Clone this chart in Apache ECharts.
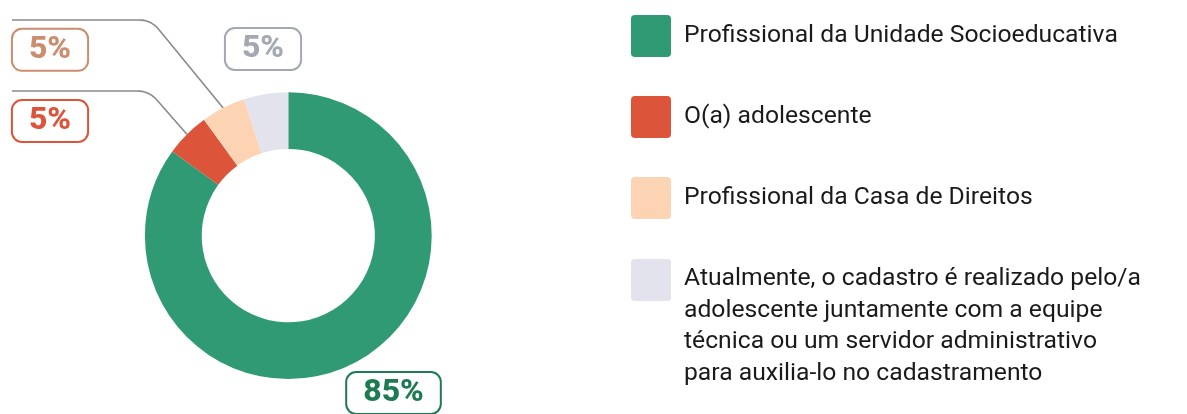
<!DOCTYPE html>
<html>
<head>
<meta charset="utf-8">
<script src="https://cdn.jsdelivr.net/npm/echarts@6/dist/echarts.min.js"></script>
<style>
  html, body { margin: 0; padding: 0; background: #ffffff; }
  #chart { width: 1187px; height: 414px; }
</style>
</head>
<body>
<div id="chart"></div>
<script>
// ---- data ----
const categories = [
  'Profissional da Unidade Socioeducativa',
  'O(a) adolescente',
  'Profissional da Casa de Direitos',
  'Atualmente, o cadastro é realizado pelo/a adolescente juntamente com a equipe técnica ou um servidor administrativo para auxilia-lo no cadastramento'
];
const legendLines = [
  ['Profissional da Unidade Socioeducativa'],
  ['O(a) adolescente'],
  ['Profissional da Casa de Direitos'],
  ['Atualmente, o cadastro é realizado pelo/a', 'adolescente juntamente com a equipe', 'técnica ou um servidor administrativo', 'para auxilia-lo no cadastramento']
];
const values = [85, 5, 5, 5];
const sliceColors = ['#2f9a74', '#dc553b', '#fdd4b3', '#e3e3ed'];
const labelColors = ['#1e7a52', '#dc553b', '#cc8d6e', '#a3a8b3'];

// ---- layout (annotation positions, not data) ----
const labelCenters = [[393.5, 393], [50, 121], [50, 49.8], [263, 49]];
const leaderY = [null, 91, 20, null];
const leaderElbowX = [null, 149, 151, null];
const leaderEndX = 12;
const LINE_H = 31.6;
const SPACER_H = 92.8;
const legendTops = [15, 96, 177, 259 - (LINE_H * 4 + SPACER_H) / 2 + 21];

function roundedLeader(s, ex, ey, endX) {
  const r = 12;
  const dx = s[0] - ex, dy = s[1] - ey;
  const len = Math.sqrt(dx * dx + dy * dy);
  const A = [ex + dx / len * r, ey + dy / len * r];
  const B = [ex - r, ey];
  const pts = [[s[0], s[1]]];
  for (let k = 0; k <= 10; k++) {
    const t = k / 10;
    const x = (1 - t) * (1 - t) * A[0] + 2 * (1 - t) * t * ex + t * t * B[0];
    const y = (1 - t) * (1 - t) * A[1] + 2 * (1 - t) * t * ey + t * t * B[1];
    pts.push([x, y]);
  }
  pts.push([endX, ey]);
  return pts;
}

const seriesData = categories.map((name, i) => ({
  name: name,
  value: values[i],
  itemStyle: { color: sliceColors[i] },
  label: { color: labelColors[i], borderColor: labelColors[i] },
  labelLine: { show: leaderY[i] != null }
}));

const iconPath = 'path://M4,0 H36 Q40,0 40,4 V38 Q40,42 36,42 H4 Q0,42 0,38 V4 Q0,0 4,0 Z';

const legends = categories.map((name, i) => ({
  data: [name],
  orient: 'vertical',
  left: 631,
  top: legendTops[i],
  padding: 0,
  itemWidth: 40,
  itemHeight: 42,
  icon: iconPath,
  selectedMode: false,
  formatter: function () {
    const lines = legendLines[i];
    const body = lines.map(l => '{t|' + l + '}').join('\n');
    return lines.length > 1 ? '{s| }\n' + body : body;
  },
  textStyle: {
    fontFamily: 'Roboto',
    fontSize: 24.7,
    color: '#1a1a1a',
    lineHeight: LINE_H,
    padding: [0, 0, 0, 8],
    rich: {
      t: { fontFamily: 'Roboto', fontSize: 24.7, color: '#1a1a1a', lineHeight: LINE_H },
      s: { fontSize: 10, lineHeight: SPACER_H }
    }
  }
}));

const chart = echarts.init(document.getElementById('chart'), null, { renderer: 'canvas' });
chart.setOption({
  animation: false,
  backgroundColor: '#ffffff',
  legend: legends,
  series: [{
    type: 'pie',
    center: [288.3, 235.7],
    radius: [86.6, 143.4],
    startAngle: 90,
    clockwise: true,
    avoidLabelOverlap: false,
    emphasis: { disabled: true },
    label: {
      show: true,
      position: 'outside',
      formatter: '{c}%',
      fontFamily: 'Roboto',
      fontWeight: 800,
      fontSize: 32,
      lineHeight: 30,
      padding: [10, 16, 0, 16],
      borderWidth: 2,
      borderRadius: 9,
      backgroundColor: '#ffffff'
    },
    labelLine: {
      show: true,
      smooth: false,
      lineStyle: { color: '#8a8a8a', width: 1.6 }
    },
    labelLayout: function (p) {
      const i = p.dataIndex;
      const out = { x: labelCenters[i][0], y: labelCenters[i][1], align: 'center', verticalAlign: 'middle' };
      if (leaderY[i] != null && p.labelLinePoints) {
        out.labelLinePoints = roundedLeader(p.labelLinePoints[0], leaderElbowX[i], leaderY[i], leaderEndX);
      }
      return out;
    },
    data: seriesData
  }]
});
</script>
</body>
</html>
